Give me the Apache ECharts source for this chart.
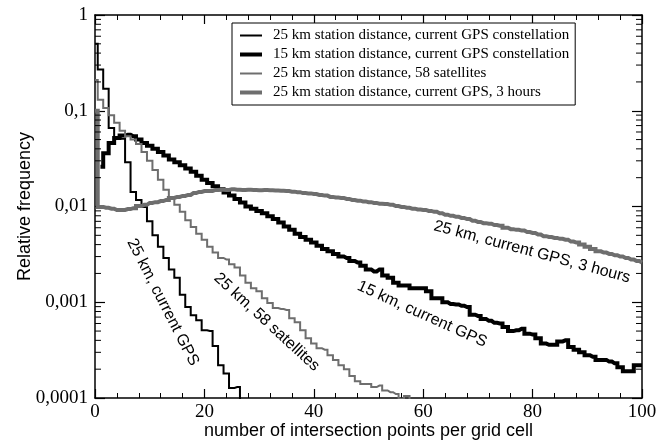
<!DOCTYPE html>
<html>
<head>
<meta charset="utf-8">
<script src="https://cdn.jsdelivr.net/npm/echarts@6/dist/echarts.min.js"></script>
<style>html,body{margin:0;padding:0;background:#fff;}#c{width:665px;height:441px;}</style>
</head>
<body>
<div id="c"></div>
<script>
// ---- data (bin index = number of intersection points) ----
var seriesNames = [
  '25 km station distance, current GPS constellation',
  '15 km station distance, current GPS constellation',
  '25 km station distance, 58 satellites',
  '25 km station distance, current GPS, 3 hours'
];
// 25 km, current GPS (starts at bin 0)
var gps25 = [0.50,0.27,0.17,0.066,0.052,0.051,0.029,0.0142,0.0117,0.0099,
  0.0070,0.0050,0.0038,0.0029,0.0022,0.0018,0.0012,0.00089,0.00073,0.00065,
  0.00051,0.00050,0.00035,0.00022,0.00018,0.000127,0.00013,0.00009];
// 15 km, current GPS (starts at bin 1)
var gps15Start = 1;
var gps15 = [0.026,0.036,0.046,0.052,0.055,0.056,0.054,0.050,0.046,
  0.043,0.040,0.037,0.034,0.031,0.029,0.027,0.025,0.023,0.021,
  0.0190,0.0176,0.0163,0.0151,0.0140,0.0130,0.0120,0.0110,0.0100,0.0095,
  0.0090,0.0085,0.0079,0.0074,0.0068,0.0062,0.0057,0.0052,0.0048,0.0045,
  0.0042,0.0039,0.0036,0.0034,0.0032,0.0030,0.0029,0.0027,0.0026,0.0024,
  0.0022,0.0021,0.0022,0.0019,0.0018,0.0016,0.0015,0.0015,0.0014,0.0014,
  0.0014,0.0013,0.0011,0.0011,0.0010,0.00096,0.00095,0.00092,0.00089,0.00074,
  0.00072,0.00067,0.00064,0.00061,0.00060,0.00055,0.00050,0.00051,0.00053,0.00047,
  0.00046,0.00042,0.00037,0.00036,0.00036,0.00039,0.00040,0.00034,0.00032,0.00030,
  0.00028,0.00027,0.00025,0.00025,0.00024,0.00023,0.00021,0.00019,0.00019,0.00022,
  0.00022];
// 25 km, 58 satellites (starts at bin 0)
var sat58 = [0.21,0.13,0.107,0.090,0.075,0.062,0.054,0.050,0.045,0.037,
  0.030,0.024,0.019,0.0150,0.0126,0.0104,0.0088,0.0072,0.0061,0.0052,
  0.0045,0.0038,0.0033,0.0029,0.0028,0.0025,0.0023,0.0019,0.0016,0.0014,
  0.0013,0.0011,0.00098,0.00087,0.00085,0.00083,0.00068,0.00062,0.00051,0.00042,
  0.00037,0.00033,0.00032,0.00028,0.00025,0.00022,0.00020,0.00017,0.00015,0.00014,
  0.00014,0.00013,0.000135,0.00012,0.000115,0.00011,0.000098,0.000105,0.00009];
// 25 km, current GPS, 3 hours (starts at bin 0)
var hours3 = [0.1,0.0099,0.0097,0.0095,0.0092,0.0092,0.0094,0.0096,0.0101,0.0104,
  0.0109,0.0111,0.0114,0.0117,0.0123,0.0126,0.0129,0.0132,0.0138,0.0142,
  0.0145,0.0145,0.0149,0.0150,0.0149,0.0151,0.0150,0.0149,0.0150,0.0149,
  0.0148,0.0149,0.0148,0.0147,0.0146,0.0145,0.0143,0.0141,0.0138,0.0137,
  0.0135,0.0132,0.0130,0.0126,0.0124,0.0123,0.0120,0.0117,0.0115,0.0113,
  0.0111,0.0109,0.0107,0.0106,0.0104,0.0101,0.0099,0.0097,0.0095,0.0093,
  0.0092,0.0090,0.0088,0.0085,0.0082,0.0080,0.0078,0.0076,0.0074,0.0071,
  0.0069,0.0067,0.0066,0.0064,0.0063,0.0060,0.0058,0.0057,0.0056,0.0054,
  0.0053,0.0051,0.0049,0.0048,0.0047,0.0046,0.0045,0.0043,0.0042,0.0040,
  0.0038,0.0036,0.0034,0.0033,0.0032,0.0031,0.0030,0.0029,0.0028,0.0027,
  0.0026];
var xTicks = [0, 20, 40, 60, 80, 100];
var yTickLabels = {'-4':'0,0001','-3':'0,001','-2':'0,01','-1':'0,1','0':'1'};
// annotations: [text, x, value, angle in degrees (clockwise)]
var annotations = [
  ['25 km, current GPS', 12.4, 0.00100, 63],
  ['25 km, 58 satellites', 31.4, 0.00062, 42.5],
  ['15 km, current GPS', 59.8, 0.00075, 24.4],
  ['25 km, current GPS, 3 hours', 79.9, 0.00335, 15]
];

function pairs(arr, start) {
  return arr.map(function (v, i) { return [start + i, v]; });
}

var BLACK = '#000000', GRAY = '#6e6e6e';
// legend line icons (22x14 box, bar of given thickness in the middle)
var ICON_THIN = 'path://M0,0L0,0M22,14L22,14M0,6L22,6L22,8L0,8Z';
var ICON_THICK = 'path://M0,0L0,0M22,14L22,14M0,5L22,5L22,9L0,9Z';
var legendIcons = [ICON_THIN, ICON_THICK, ICON_THIN, ICON_THICK];

var chart = echarts.init(document.getElementById('c'), null, {renderer: 'canvas'});

function xAxisCfg(pos, showLabel) {
  return {
    type: 'value', position: pos, min: 0, max: 100, interval: 20,
    axisLine: {show: true, onZero: false, lineStyle: {color: BLACK, width: 1.5}},
    axisTick: {show: true, inside: true, length: 9, lineStyle: {color: BLACK, width: 1.2}},
    minorTick: {show: true, splitNumber: 5, length: 5, lineStyle: {color: BLACK, width: 1}},
    splitLine: {show: false}, minorSplitLine: {show: false},
    axisLabel: {show: showLabel, color: BLACK, fontFamily: 'Liberation Serif', fontSize: 19, margin: 5}
  };
}
function yAxisCfg(pos, showLabel) {
  return {
    type: 'log', logBase: 10, position: pos, min: 0.0001, max: 1,
    axisLine: {show: true, onZero: false, lineStyle: {color: BLACK, width: 1.5}},
    axisTick: {show: true, inside: true, length: 10, lineStyle: {color: BLACK, width: 1.2}},
    splitLine: {show: false},
    axisLabel: {show: showLabel, color: BLACK, fontFamily: 'Liberation Serif', fontSize: 19, margin: 7,
      formatter: function (v) { return yTickLabels[String(Math.round(Math.log10(v)))] || ''; }}
  };
}

var xa0 = xAxisCfg('bottom', true);
xa0.name = 'number of intersection points per grid cell';
xa0.nameLocation = 'middle';
xa0.nameGap = 24;
xa0.nameMoveOverlap = false;
xa0.nameTextStyle = {fontFamily: 'Liberation Sans', fontSize: 18, color: BLACK, verticalAlign: 'top'};
var ya0 = yAxisCfg('left', true);
ya0.name = 'Relative frequency';
ya0.nameLocation = 'middle';
ya0.nameGap = 61;
ya0.nameMoveOverlap = false;
ya0.nameTextStyle = {fontFamily: 'Liberation Sans', fontSize: 18, color: BLACK};

function lineSeries(name, data, color, width) {
  return {
    name: name, type: 'line', step: 'middle', data: data,
    xAxisIndex: 0, yAxisIndex: 0, symbol: 'none', showSymbol: false,
    clip: true, animation: false,
    lineStyle: {color: color, width: width, join: 'miter'}, itemStyle: {color: color}
  };
}

chart.setOption({
  animation: false,
  backgroundColor: '#ffffff',
  grid: {left: 95, right: 23, top: 15, bottom: 43, containLabel: false, outerBoundsMode: 'none'},
  xAxis: [xa0, xAxisCfg('top', false)],
  yAxis: [ya0, yAxisCfg('right', false)],
  legend: {
    orient: 'vertical', left: 232, top: 23,
    itemWidth: 22, itemHeight: 14, itemGap: 4,
    padding: [5, 6, 5, 8],
    borderColor: BLACK, borderWidth: 1, borderRadius: 0, backgroundColor: '#ffffff',
    itemStyle: {borderWidth: 0},
    textStyle: {fontFamily: 'Liberation Serif', fontSize: 15, color: BLACK, padding: [0, 0, 0, 6]},
    data: seriesNames.map(function (n, i) { return {name: n, icon: legendIcons[i]}; })
  },
  series: [
    lineSeries(seriesNames[0], pairs(gps25, 0), BLACK, 2),
    lineSeries(seriesNames[1], pairs(gps15, gps15Start), BLACK, 4),
    lineSeries(seriesNames[2], pairs(sat58, 0), GRAY, 2),
    lineSeries(seriesNames[3], pairs(hours3, 0), GRAY, 4)
  ]
});

// minor log ticks (2..9 per decade) on left and right axes, and rotated annotations
var gfx = [];
var xl = chart.convertToPixel({xAxisIndex: 0}, 0);
var xr = chart.convertToPixel({xAxisIndex: 0}, 100);
for (var d = -4; d < 0; d++) {
  for (var m = 2; m <= 9; m++) {
    var py = chart.convertToPixel({yAxisIndex: 0}, m * Math.pow(10, d));
    gfx.push({type: 'line', shape: {x1: xl, y1: py, x2: xl + 6, y2: py}, style: {stroke: BLACK, lineWidth: 1}, z: 10});
    gfx.push({type: 'line', shape: {x1: xr - 6, y1: py, x2: xr, y2: py}, style: {stroke: BLACK, lineWidth: 1}, z: 10});
  }
}
annotations.forEach(function (a) {
  var p = chart.convertToPixel({xAxisIndex: 0, yAxisIndex: 0}, [a[1], a[2]]);
  gfx.push({type: 'text', x: p[0], y: p[1], rotation: -a[3] * Math.PI / 180, z: 20,
    style: {text: a[0], font: '16px "Liberation Sans"', fill: BLACK, align: 'center', verticalAlign: 'middle'}});
});
chart.setOption({graphic: gfx});
</script>
</body>
</html>
